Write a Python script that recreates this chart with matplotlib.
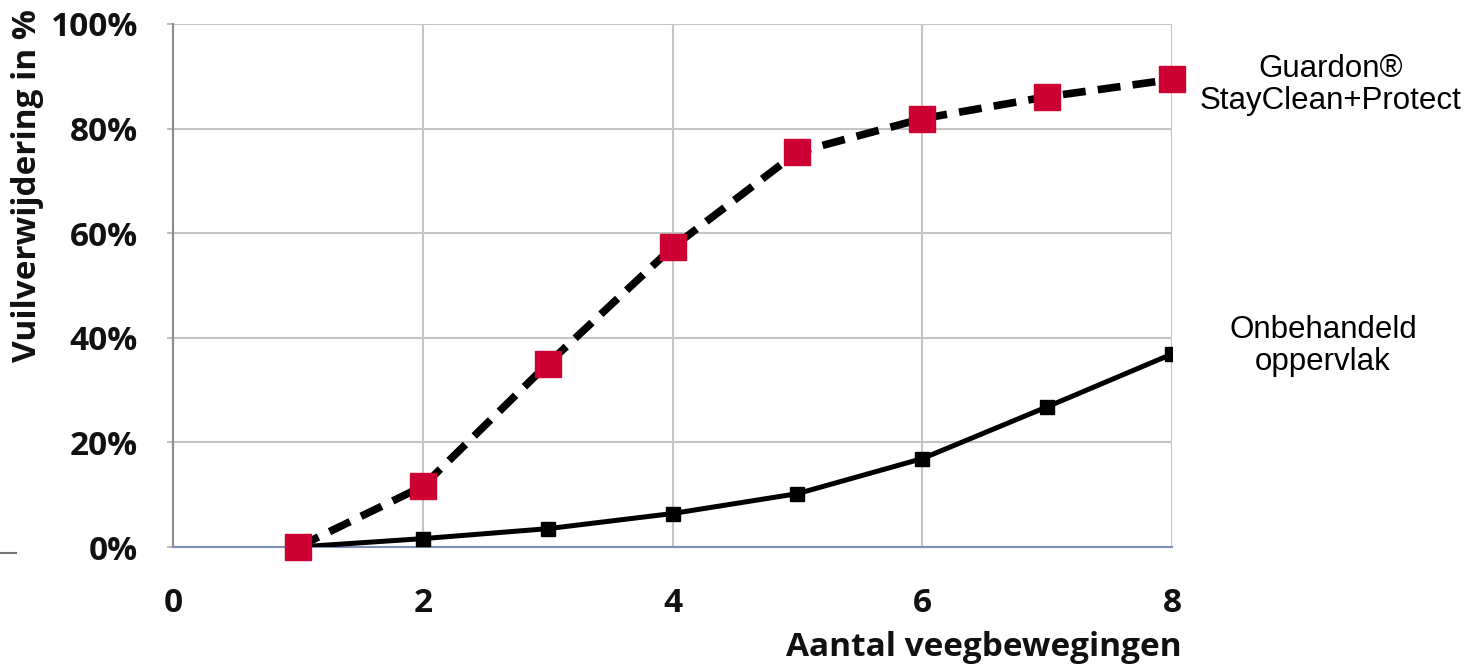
import matplotlib
matplotlib.use("Agg")
import matplotlib.pyplot as plt
from matplotlib.lines import Line2D

# data
x = [1, 2, 3, 4, 5, 6, 7, 8]
guardon = [0.0, 11.6, 35.0, 57.3, 75.5, 81.9, 86.1, 89.4]
onbehandeld = [0.0, 1.6, 3.5, 6.4, 10.2, 16.9, 26.8, 36.9]
xticks = [0, 2, 4, 6, 8]
yticks = [0, 20, 40, 60, 80, 100]
ylabels = ["0%", "20%", "40%", "60%", "80%", "100%"]
label_guardon = "Guardon®\nStayClean+Protect"
label_plain = "Onbehandeld\noppervlak"

W, H = 1474, 669
fig = plt.figure(figsize=(W / 100, H / 100), dpi=100)
ax = fig.add_axes([173 / W, 1 - 547 / H, (1172 - 173) / W, (547 - 24) / H])

ax.plot(x, onbehandeld, color="black", lw=3.6, marker="s", ms=10,
        solid_joinstyle="round", zorder=3)
ax.plot(x, guardon, color="black", lw=5.5, ls=(0, (3.0, 1.6)),
        marker="s", ms=18.5, mfc="#cc0033", mec="#cc0033", zorder=4,
        clip_on=False)

ax.set_xlim(0, 8)
ax.set_ylim(0, 100)
ax.set_xticks(xticks)
ax.set_yticks(yticks)
ax.set_yticklabels(ylabels)
ax.grid(True, color="#c4c4c4", lw=1.5)
ax.set_axisbelow(True)

for s in ["top", "right"]:
    ax.spines[s].set_visible(False)
ax.spines["left"].set_color("#8c8c8c")
ax.spines["left"].set_linewidth(1.5)
ax.spines["bottom"].set_color("#7d8cb8")
ax.spines["bottom"].set_linewidth(1.5)

tfont = "Open Sans"
fs = 24
ax.tick_params(axis="y", length=4.3, width=1.2, color="#b0b0b0", pad=21)
ax.tick_params(axis="x", length=0, pad=28.5)
for lab in ax.get_xticklabels() + ax.get_yticklabels():
    lab.set_fontfamily(tfont)
    lab.set_fontweight("bold")
    lab.set_fontsize(fs)
    lab.set_color("#111111")

fig.text(1182 / W, 1 - 648 / H, "Aantal veegbewegingen", ha="right",
         va="center", fontsize=fs, fontweight="bold", family=tfont,
         color="#111111")
fig.text(28 / W, 1 - 186 / H, "Vuilverwijdering in %", rotation=90,
         ha="center", va="center", fontsize=fs, fontweight="bold",
         family=tfont, color="#111111")

fig.text(1331 / W, 1 - 85 / H, label_guardon, ha="center", va="center",
         fontsize=22.5, family="Liberation Sans", linespacing=1.12)
fig.text(1323 / W, 1 - 346 / H, label_plain, ha="center", va="center",
         fontsize=22.5, family="Liberation Sans", linespacing=1.12)

# small stray dash at the lower left of the original
fig.add_artist(Line2D([0, 16 / W], [1 - 553 / H, 1 - 553 / H],
                      color="#777777", lw=1.5))

fig.savefig("out.png", dpi=100)
